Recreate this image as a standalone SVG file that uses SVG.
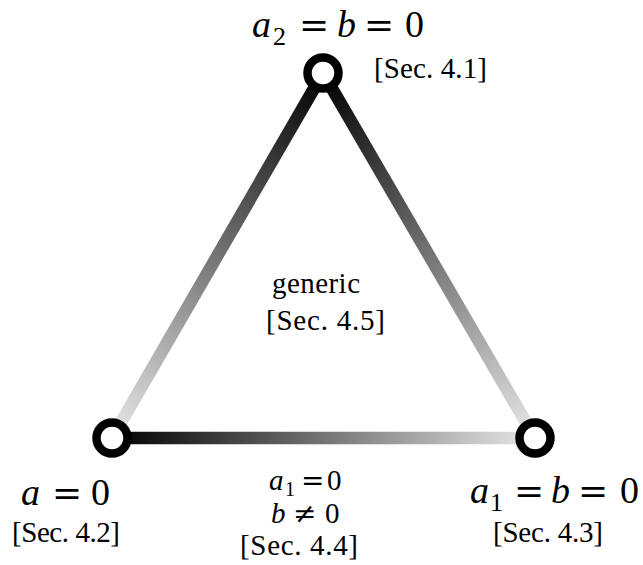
<svg xmlns="http://www.w3.org/2000/svg" width="643" height="565" viewBox="0 0 643 565">
<style>
.math{font-family:"Liberation Serif","DejaVu Serif",serif;fill:#000}
.mi{font-style:italic}
.rel{font-family:"DejaVu Serif","Liberation Serif",serif;fill:#000}
.big{font-size:38px}
.bigrel{font-size:36px}
.sub{font-size:26px}
.mid{font-size:29px}
.midrel{font-size:28px}
.msub{font-size:20px}
.sec{font-family:"Liberation Serif","DejaVu Serif",serif;font-size:29px;fill:#000}
.node{fill:#fff;stroke:#000;stroke-width:8.5}
.edge{stroke-width:12.5;fill:none;stroke-linecap:butt}
</style>
<defs>
<linearGradient id="gL" gradientUnits="userSpaceOnUse" x1="323" y1="73" x2="112" y2="438">
<stop offset="0" stop-color="#000"/><stop offset="1" stop-color="#e8e8e8"/>
</linearGradient>
<linearGradient id="gR" gradientUnits="userSpaceOnUse" x1="323" y1="73" x2="535" y2="438">
<stop offset="0" stop-color="#000"/><stop offset="1" stop-color="#e8e8e8"/>
</linearGradient>
<linearGradient id="gB" gradientUnits="userSpaceOnUse" x1="112" y1="438" x2="535" y2="438">
<stop offset="0" stop-color="#000"/><stop offset="1" stop-color="#e8e8e8"/>
</linearGradient>
</defs>
<g id="connectors">
<line class="edge" x1="323" y1="73" x2="112" y2="438" stroke="url(#gL)"/>
<line class="edge" x1="323" y1="73" x2="535" y2="438" stroke="url(#gR)"/>
<line class="edge" x1="112" y1="438" x2="535" y2="438" stroke="url(#gB)"/>
</g>
<g id="node-top">
<circle class="node" cx="323" cy="73" r="15.5"/>
<text class="math big" y="37"><tspan class="mi" x="252">a</tspan><tspan class="sub" x="273" y="45">2</tspan><tspan class="rel bigrel" x="299" y="37">=</tspan><tspan class="mi" x="337">b</tspan><tspan class="rel bigrel" x="364">=</tspan><tspan x="405">0</tspan></text>
<text class="sec" x="374" y="78" textLength="113" lengthAdjust="spacing">[Sec. 4.1]</text>
</g>
<g id="node-left">
<circle class="node" cx="112" cy="438" r="15.5"/>
<text class="math big" y="505"><tspan class="mi" x="21">a</tspan><tspan class="rel bigrel" x="52">=</tspan><tspan x="91">0</tspan></text>
<text class="sec" x="12" y="542" textLength="108" lengthAdjust="spacing">[Sec. 4.2]</text>
</g>
<g id="node-right">
<circle class="node" cx="535" cy="438" r="15.5"/>
<text class="math big" y="503"><tspan class="mi" x="470">a</tspan><tspan class="sub" x="490" y="511">1</tspan><tspan class="rel bigrel" x="514" y="503">=</tspan><tspan class="mi" x="551">b</tspan><tspan class="rel bigrel" x="578">=</tspan><tspan x="620">0</tspan></text>
<text class="sec" x="493" y="542" textLength="110" lengthAdjust="spacing">[Sec. 4.3]</text>
</g>
<g id="label-generic">
<text class="sec" x="272" y="293" textLength="88" lengthAdjust="spacing">generic</text>
<text class="sec" x="266" y="330" textLength="119" lengthAdjust="spacing">[Sec. 4.5]</text>
</g>
<g id="label-bottom-edge">
<text class="math mid" y="490"><tspan class="mi" x="269">a</tspan><tspan class="msub" x="285" y="496">1</tspan><tspan class="rel midrel" x="301" y="490">=</tspan><tspan x="327">0</tspan></text>
<text class="math mid" y="523"><tspan class="mi" x="271">b</tspan><tspan class="rel midrel" x="293">≠</tspan><tspan x="325">0</tspan></text>
<text class="sec" x="240" y="555" textLength="118" lengthAdjust="spacing">[Sec. 4.4]</text>
</g>
</svg>
